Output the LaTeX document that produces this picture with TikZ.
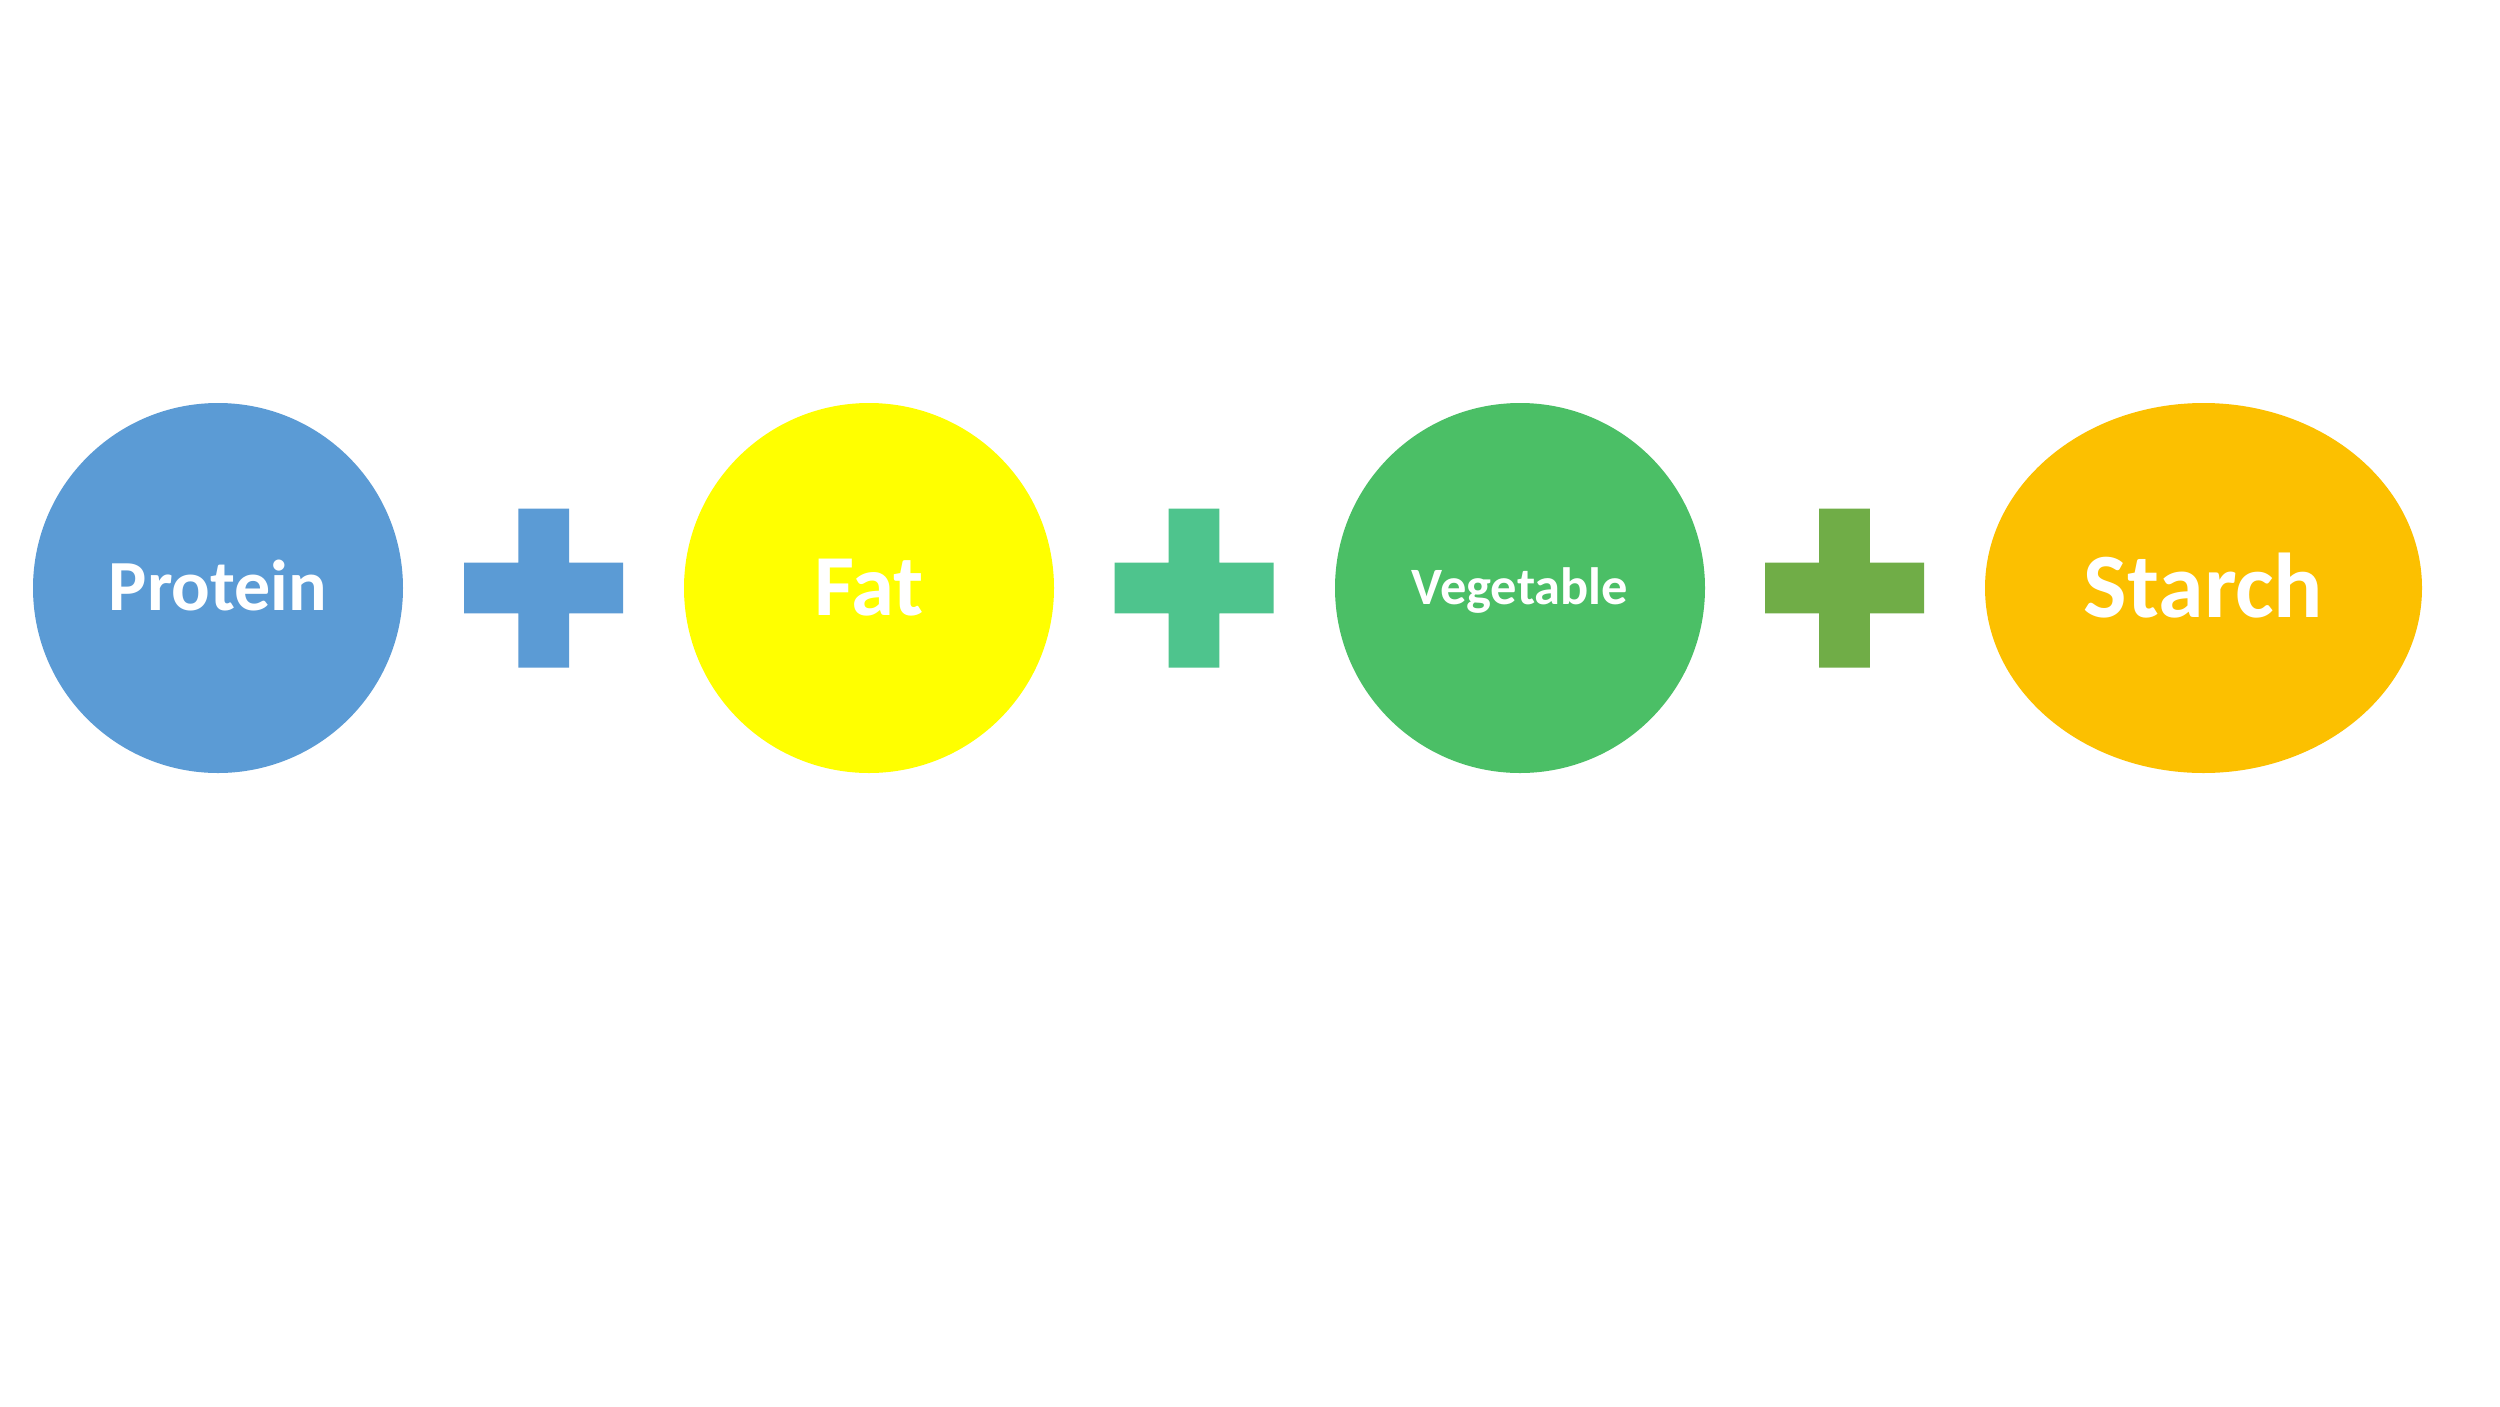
\documentclass[tikz,border=0pt]{standalone}
\usepackage{fontspec}
\setmainfont{Carlito}
\usetikzlibrary{shapes.geometric,calc}
\definecolor{cblue}{HTML}{5B9BD5}
\definecolor{cyellow}{HTML}{FFFF00}
\definecolor{cgreen}{HTML}{4BBF66}
\definecolor{cteal}{HTML}{4EC48D}
\definecolor{colive}{HTML}{70AD47}
\definecolor{corange}{HTML}{FCC000}
\tikzset{
  food/.style={circle, minimum size=370pt, inner sep=0pt},
  foodoval/.style={ellipse, minimum width=437pt, minimum height=370pt, inner sep=0pt},
  lbl/.style={anchor=base, inner sep=0pt, text=white, font=\bfseries}
}
\newcommand{\plusat}[2]{%
  \fill[#2] ($(#1)+(-25.3,-79.5)$) -- ++(50.6,0) -- ++(0,54.2) -- ++(54.2,0) -- ++(0,50.6) -- ++(-54.2,0) -- ++(0,54.2) -- ++(-50.6,0) -- ++(0,-54.2) -- ++(-54.2,0) -- ++(0,-50.6) -- ++(54.2,0) -- cycle;}
\begin{document}
\begin{tikzpicture}[x=1pt,y=-1pt]
\useasboundingbox[fill=white] (0,0) rectangle (2500,1406);
\node[food, fill=cblue] (protein) at (218,588) {};
\node[food, fill=cyellow] (fat) at (869,588) {};
\node[food, fill=cgreen] (veg) at (1520,588) {};
\node[foodoval, fill=corange] (starch) at (2203.5,588) {};
\node[lbl] (proteinlbl) at ($(protein.center)+(0,22.7)$) {\fontsize{72}{76}\selectfont Protein};
\node[lbl] (fatlbl) at ($(fat.center)+(0,27.5)$) {\fontsize{87}{90}\selectfont Fat};
\node[lbl] (veglbl) at ($(veg.center)+(0,16.6)$) {\fontsize{52.5}{56}\selectfont Vegetable};
\node[lbl] (starchlbl) at ($(starch.center)+(0,29.5)$) {\fontsize{92}{96}\selectfont Starch};
\coordinate (p1) at (543.7,588);
\coordinate (p2) at (1194,588);
\coordinate (p3) at (1844.5,588);
\plusat{p1}{cblue}
\plusat{p2}{cteal}
\plusat{p3}{colive}
\end{tikzpicture}
\end{document}
